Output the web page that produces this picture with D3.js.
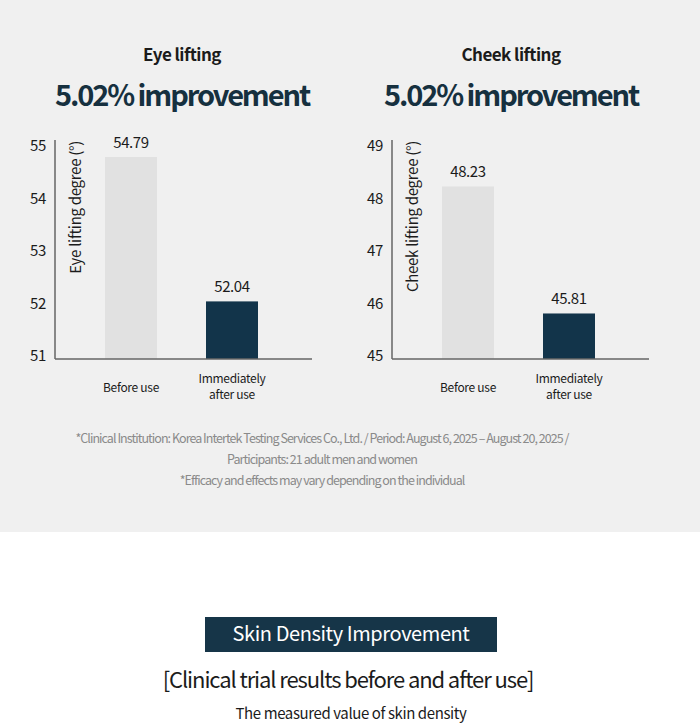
<!DOCTYPE html>
<html>
<head>
<meta charset="utf-8">
<script src="https://cdn.jsdelivr.net/npm/d3@7"></script>
<style>
  html, body { margin: 0; padding: 0; background: #fff; }
  svg { display: block; }
  text { font-family: "Noto Sans CJK KR", "Noto Sans", sans-serif; }
</style>
</head>
<body>
<svg id="viz" width="700" height="725"></svg>
<script>
// chart data
var categories = ["Before use", "Immediately after use"]
var titles = ["Eye lifting", "Cheek lifting"]
var headlines = ["5.02% improvement", "5.02% improvement"]
var axisTitles = ["Eye lifting degree (°)", "Cheek lifting degree (°)"]
var eyeValues = [54.79, 52.04]
var cheekValues = [48.23, 45.81]
var eyeTicks = [51, 52, 53, 54, 55]
var cheekTicks = [45, 46, 47, 48, 49]
var footnotes = [
    "*Clinical Institution: Korea Intertek Testing Services Co., Ltd. / Period: August 6, 2025 – August 20, 2025 /",
    "Participants: 21 adult men and women",
    "*Efficacy and effects may vary depending on the individual"
]

let viz = d3.select("#viz")
let barColors = ["#e1e1e1", "#12344a"]
let ink = "#1b1b1b"

viz.append("rect")
    .attr("x", 0).attr("y", 0)
    .attr("width", 700).attr("height", 532)
    .style("fill", "#f0f0f0")

let panels = [
    {x0: 55, title: titles[0], headline: headlines[0], axisTitle: axisTitles[0], values: eyeValues, ticks: eyeTicks, cx: 182},
    {x0: 392, title: titles[1], headline: headlines[1], axisTitle: axisTitles[1], values: cheekValues, ticks: cheekTicks, cx: 511}
]

panels.forEach(function (p) {
    let g = viz.append("g")

    g.append("text")
        .text(p.title)
        .attr("x", p.cx).attr("y", 61)
        .attr("text-anchor", "middle")
        .attr("font-size", 17).attr("font-weight", 700)
        .style("letter-spacing", "-0.55px")
        .style("fill", ink)

    g.append("text")
        .text(p.headline)
        .attr("x", p.cx).attr("y", 106)
        .attr("text-anchor", "middle")
        .attr("font-size", 29).attr("font-weight", 700)
        .style("letter-spacing", "-2.1px")
        .style("fill", "#16303f")

    let y = d3.scaleLinear()
        .domain([p.ticks[0], p.ticks[p.ticks.length - 1]])
        .range([356, 146])

    // bars are 52px wide, centres ~101px apart
    let x = d3.scalePoint()
        .domain(categories)
        .range([p.x0 + 76, p.x0 + 177])
    let bw = 52

    g.selectAll("rect.bar")
        .data(p.values)
        .enter().append("rect")
        .attr("class", "bar")
        .attr("x", (v, i) => x(categories[i]) - bw / 2)
        .attr("width", bw)
        .attr("y", v => y(v))
        .attr("height", v => 359 - y(v))
        .style("fill", (v, i) => barColors[i])

    g.selectAll("text.val")
        .data(p.values)
        .enter().append("text")
        .attr("class", "val")
        .text(v => v.toFixed(2))
        .attr("x", (v, i) => x(categories[i]))
        .attr("y", v => y(v) - 9)
        .attr("text-anchor", "middle")
        .attr("font-size", 15)
        .style("letter-spacing", "-0.4px")
        .style("fill", ink)

    let yAxis = d3.axisLeft(y)
        .tickValues(p.ticks)
        .tickSize(0)
        .tickPadding(9)
        .tickFormat(d3.format("d"))

    let ax = g.append("g")
        .attr("transform", `translate(${p.x0},0)`)
        .call(yAxis)
    ax.select(".domain").remove()
    ax.selectAll("text")
        .attr("font-size", 15)
        .style("font-family", '"Noto Sans CJK KR", "Noto Sans", sans-serif')
        .style("letter-spacing", "-0.3px")
        .style("fill", ink)

    g.append("line")
        .attr("x1", p.x0).attr("x2", p.x0)
        .attr("y1", 140).attr("y2", 359)
        .style("stroke", "#666").style("stroke-width", 1.5)
    g.append("line")
        .attr("x1", p.x0).attr("x2", p.x0 + 257)
        .attr("y1", 359).attr("y2", 359)
        .style("stroke", "#666").style("stroke-width", 1.5)

    g.append("text")
        .text(p.axisTitle)
        .attr("transform", `translate(${p.x0 + 26},141) rotate(-90)`)
        .attr("text-anchor", "end")
        .attr("font-size", 15)
        .style("letter-spacing", "-0.3px")
        .style("fill", ink)

    // category labels
    categories.forEach(function (c, i) {
        let lines = i == 0 ? [c] : ["Immediately", "after use"]
        let t = g.append("text")
            .attr("text-anchor", "middle")
            .attr("font-size", 12)
            .style("letter-spacing", "-0.3px")
            .style("fill", ink)
        lines.forEach(function (l, j) {
            t.append("tspan")
                .attr("x", x(c))
                .attr("y", (lines.length == 1 ? 392 : 383) + j * 16)
                .text(l)
        })
    })
})

viz.append("g").selectAll("text")
    .data(footnotes)
    .enter().append("text")
    .text(d => d)
    .attr("x", 322)
    .attr("y", (d, i) => 443 + i * 21)
    .attr("text-anchor", "middle")
    .attr("font-size", 12.5)
    .style("letter-spacing", "-0.95px")
    .style("fill", "#8a8a8a")

viz.append("rect")
    .attr("x", 205).attr("y", 617)
    .attr("width", 292).attr("height", 35)
    .style("fill", "#163548")
viz.append("text")
    .text("Skin Density Improvement")
    .attr("x", 351).attr("y", 641)
    .attr("text-anchor", "middle")
    .attr("font-size", 20)
    .style("letter-spacing", "-0.4px")
    .style("fill", "#fff")
viz.append("text")
    .text("[Clinical trial results before and after use]")
    .attr("x", 348).attr("y", 688)
    .attr("text-anchor", "middle")
    .attr("font-size", 22)
    .style("letter-spacing", "-1.1px")
    .style("fill", ink)
viz.append("text")
    .text("The measured value of skin density")
    .attr("x", 351).attr("y", 719)
    .attr("text-anchor", "middle")
    .attr("font-size", 15)
    .style("letter-spacing", "-0.4px")
    .style("fill", ink)
</script>
</body>
</html>
